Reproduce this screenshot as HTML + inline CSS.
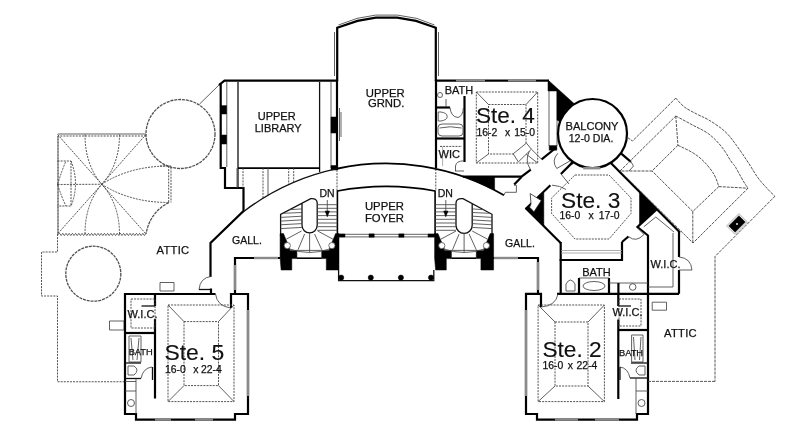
<!DOCTYPE html>
<html><head><meta charset="utf-8"><title>Upper floor plan</title>
<style>
html,body{margin:0;padding:0;background:#fff;}
body{width:800px;height:444px;overflow:hidden;}
svg{display:block;filter:blur(.4px);font-family:"Liberation Sans",sans-serif;}
svg path,svg circle,svg polygon,svg ellipse{fill:none;stroke-linejoin:miter;}
.w{stroke:#000;stroke-width:2.2;}
.m{stroke:#111;stroke-width:1.3;}
.m2{stroke:#000;stroke-width:1.6;}
.a{stroke:#000;stroke-width:1.9;}
.t{stroke:#444;stroke-width:.85;}
.t2{stroke:#999;stroke-width:.8;}
.t0{stroke:#fff;stroke-width:0;}
.d{stroke:#404040;stroke-width:.9;stroke-dasharray:2 1.1;}
.r{stroke:#444;stroke-width:.9;stroke-dasharray:3 1;}
.d2{stroke:#505050;stroke-width:1.3;stroke-dasharray:3 .9;}
.zz{stroke:#444;stroke-width:.8;}
.gw{stroke:#8a8a8a;stroke-width:2.4;}
svg .k{fill:#000;stroke:#000;stroke-width:.5;}
svg .wh{fill:#fff;stroke:none;}
text{fill:#111;stroke:#111;stroke-width:.25;}
text.big{stroke-width:.15;}
</style></head><body>
<svg width="800" height="444" viewBox="0 0 800 444">
<rect x="0" y="0" width="800" height="444" fill="#fff" stroke="none"/>
<path class="d" d="M146,136H58V234"/>
<path class="t" d="M58,134L146,134"/>
<path class="d" d="M58,136L58,234"/>
<path class="d" d="M57.5,134.5L146,234"/>
<path class="d" d="M146,134.5L57.5,234"/>
<path class="zz" d="M58,234.5L59.6,233.3L61.2,235.6L62.8,233.3L64.4,235.6L66.0,233.3L67.6,235.6L69.2,233.3L70.8,235.6L72.4,233.3L74.0,235.6L75.6,233.3L77.2,235.6L78.8,233.3L80.4,235.6L82.0,233.3L83.6,235.6L85.2,233.3L86.8,235.6L88.4,233.3L90.0,235.6L91.6,233.3L93.2,235.6L94.8,233.3L96.4,235.6L98.0,233.3L99.6,235.6L101.2,233.3L102.8,235.6L104.4,233.3L106.0,235.6L107.6,233.3L109.2,235.6L110.8,233.3L112.4,235.6L114.0,233.3L115.6,235.6L117.2,233.3L118.8,235.6L120.4,233.3L122.0,235.6L123.6,233.3L125.2,235.6L126.8,233.3L128.4,235.6L130.0,233.3L131.6,235.6L133.2,233.3L134.8,235.6L136.4,233.3L138.0,235.6L139.6,233.3L141.2,235.6L142.8,233.3L144.4,235.6L146.0,233.3"/>
<path class="d" d="M85,134.5 Q85,165 101.75,184.25"/>
<path class="d" d="M119.5,134.5 Q119.5,165 101.75,184.25"/>
<path class="d" d="M85,234 Q85,204 101.75,184.25"/>
<path class="d" d="M119.5,234 Q119.5,204 101.75,184.25"/>
<path class="d" d="M101.75,184.25 Q130,166 169,166"/>
<path class="d" d="M101.75,184.25 Q130,202.5 169,202.5"/>
<path class="d" d="M160,166H171V202.5 M168.7,166V202.5"/>
<path class="d2" d="M169,202.5 Q150,212 146,234"/>
<path class="d" d="M57.5,184.5L101.75,184.25"/>
<path class="d" d="M57.5,161H71V206H57.5"/>
<path class="d" d="M71,161 Q80,184 71,206"/>
<path class="d" d="M57.5,184.5 Q62,170 66,161"/>
<path class="d" d="M57.5,184.5 Q62,198 66,206"/>
<path class="d" d="M57.5,234V252H41.5V296H57.5V381.75H125"/>
<circle class="d2" cx="93.3" cy="273.7" r="27.5"/>
<circle class="d2" cx="180.5" cy="134" r="34.5"/>
<path class="t" d="M199.6,104L219,85"/>
<path class="t" d="M160,282.5H174V291H160Z"/>
<path class="t" d="M109.5,321H124V330H109.5Z"/>
<path class="w" d="M337.2,81V27.8L357.5,20.9L375.8,17.7H397.2L416,20.9L435.8,27.8V81"/>
<path class="w" d="M337,80L337,170"/>
<path class="w" d="M436,80L436,168"/>
<path class="t" d="M334.5,32V76 M438.5,32V76"/>
<path class="t" d="M338.5,25L357,18.4L375.6,15.1H397.4L416.8,18.4L434.5,25"/>
<path class="w" d="M219,85L224.5,80.6H337"/>
<path class="w" d="M220.7,83V168H225V188H243.5V211L210.5,243V277"/>
<path class="t" d="M226.8,82L226.8,167"/>
<path class="m" d="M238,82L238,188"/>
<path class="m" d="M319.6,82L319.6,172"/>
<path class="t" d="M331,82L331,168"/>
<path class="a" d="M238,168.1L320,168.1"/>
<path class="k" d="M221,105.6H226.5V114H221Z"/>
<path class="k" d="M221,135H226.5V144H221Z"/>
<path class="k" d="M331,117H337V133H331Z"/>
<path class="k" d="M331,165.5H337V170H331Z"/>
<path class="t" d="M339.5,108V141 M341,112V137"/>
<path class="d" d="M243,168L243,188"/>
<path class="d" d="M263,168L263,198.3"/>
<path class="t" d="M268,168L268,195.3"/>
<path class="d" d="M288.7,168L288.7,184.6"/>
<path class="d" d="M293.7,168L293.7,182.4"/>
<path class="t" d="M237,168L237,188"/>
<path class="d" d="M337,170L337,191"/>
<path class="d" d="M435.8,169L435.8,191"/>
<path class="m" d="M243,212 A235,235 0 0 1 337.2,168.6"/>
<path class="a" d="M336.5,168.7 A235,235 0 0 1 504,195.3"/>
<path class="m2" d="M337.4,191 A263,263 0 0 1 435.1,191"/>
<path class="m2" d="M337.4,190.5L337.4,236"/>
<path class="m2" d="M435.1,190.5L435.1,236"/>
<path class="m" d="M280.6,236 V214.3 L310.7,198.6 Q317.2,198.0 317.2,203.1 V225.3 A7.6,7.6 0 0 1 302,225.3 V203.1"/>
<path class="t" d="M317.2,204.7L337.4,204.7"/>
<path class="t" d="M317.2,208.3L337.4,208.3"/>
<path class="t" d="M317.2,211.9L337.4,211.9"/>
<path class="t" d="M317.2,215.6L337.4,215.6"/>
<path class="t" d="M317.2,219.3L337.4,219.3"/>
<path class="t" d="M317.2,223L337.4,223"/>
<path class="t" d="M317.2,226.7L337.4,226.7"/>
<path class="t" d="M317.2,230.3L337.4,230.3"/>
<path class="t" d="M289.4,209.70000000000002L302,208.9"/>
<path class="t" d="M282.5,213.3L302,212.5"/>
<path class="t" d="M280.6,217.4L302,216.2"/>
<path class="t" d="M280.6,221.10000000000002L302,219.9"/>
<path class="t" d="M280.6,224.8L302,223.6"/>
<path class="t" d="M280.6,228.60000000000002L302,227.4"/>
<path class="t" d="M304.6,234.0L298.0,249.8"/>
<path class="t" d="M301.5,231.0L286.3,239.2"/>
<path class="t" d="M309.6,233.0L309.6,252.4"/>
<path class="t" d="M314.6,234.0L321.8,249.8"/>
<path class="t" d="M317.7,231.0L333.0,239.2"/>
<polygon class="k" points="280.1,233.6 283.5,233.6 286.1,240 289.1,246 290.1,250.4 296.90000000000003,250.4 296.90000000000003,258.6 291.8,258.6 291.8,270 281.1,270 280.1,258"/>
<polygon class="k" points="339.0,233.6 335.6,233.6 333.0,240 330.0,246 329.0,250.4 321.7,250.4 321.7,258.6 326.3,258.6 326.3,270 339.0,270"/>
<circle cx="287.3" cy="245.6" r="3.1" style="fill:#fff;stroke:#555;stroke-width:.8"/>
<circle cx="331.9" cy="245.6" r="3.1" style="fill:#fff;stroke:#555;stroke-width:.8"/>
<path class="t" d="M288.1,248.6 Q309.6,256.4 331.1,248.6"/>
<path class="t" d="M296.90000000000003,250.4L321.7,250.4"/>
<path class="m2" d="M296.90000000000003,258.2L321.7,258.2"/>
<text x="327" y="197.2" font-size="10.5" text-anchor="middle" >DN</text>
<path class="t" d="M327.3,200L327.3,212"/>
<polygon class="k" points="325.1,211 329.5,211 327.3,216.8"/>
<path class="m" d="M492,236 V214.3 L463.0,198.6 Q456,198.0 456,203.1 V225.3 A8.1,8.1 0 0 0 472.2,225.3 V203.6"/>
<path class="t" d="M456,204.7L435.1,204.7"/>
<path class="t" d="M456,208.3L435.1,208.3"/>
<path class="t" d="M456,211.9L435.1,211.9"/>
<path class="t" d="M456,215.6L435.1,215.6"/>
<path class="t" d="M456,219.3L435.1,219.3"/>
<path class="t" d="M456,223L435.1,223"/>
<path class="t" d="M456,226.7L435.1,226.7"/>
<path class="t" d="M456,230.3L435.1,230.3"/>
<path class="t" d="M483.5,209.70000000000002L472.2,208.9"/>
<path class="t" d="M490.2,213.3L472.2,212.5"/>
<path class="t" d="M492,217.4L472.2,216.2"/>
<path class="t" d="M492,221.10000000000002L472.2,219.9"/>
<path class="t" d="M492,224.8L472.2,223.6"/>
<path class="t" d="M492,228.60000000000002L472.2,227.4"/>
<path class="t" d="M459.1,234.0L452.5,249.8"/>
<path class="t" d="M456.0,231.0L440.8,239.2"/>
<path class="t" d="M464.1,233.0L464.1,252.4"/>
<path class="t" d="M469.1,234.0L476.3,249.8"/>
<path class="t" d="M472.2,231.0L487.5,239.2"/>
<polygon class="k" points="434.6,233.6 438.0,233.6 440.6,240 443.6,246 444.6,250.4 451.40000000000003,250.4 451.40000000000003,258.6 446.3,258.6 446.3,270 435.6,270 434.6,258"/>
<polygon class="k" points="493.6,233.6 490.20000000000005,233.6 487.6,240 484.6,246 483.6,250.4 476.3,250.4 476.3,258.6 480.90000000000003,258.6 480.90000000000003,270 493.6,270"/>
<circle cx="441.8" cy="245.6" r="3.1" style="fill:#fff;stroke:#555;stroke-width:.8"/>
<circle cx="486.4" cy="245.6" r="3.1" style="fill:#fff;stroke:#555;stroke-width:.8"/>
<path class="t" d="M442.6,248.6 Q464.1,256.4 485.6,248.6"/>
<path class="t" d="M451.40000000000003,250.4L476.3,250.4"/>
<path class="m2" d="M451.40000000000003,258.2L476.3,258.2"/>
<text x="445.3" y="197.2" font-size="10.5" text-anchor="middle" >DN</text>
<path class="t" d="M445.8,200L445.8,212"/>
<polygon class="k" points="443.6,211 448.0,211 445.8,216.8"/>
<path class="t" d="M338,234.3L435,234.3"/>
<path class="t" d="M338,236.9L435,236.9"/>
<path class="k" d="M369.0,233.9H374.20000000000005V237.2H369.0Z"/>
<path class="k" d="M398.79999999999995,233.9H404.0V237.2H398.79999999999995Z"/>
<path class="k" d="M338,234H345V237H338Z"/>
<path class="k" d="M428,234H435V237H428Z"/>
<path class="m" d="M338.6,270V280.7H433.8V270"/>
<circle class="k" cx="341.2" cy="277.6" r="2.6"/>
<circle class="k" cx="370.8" cy="277.6" r="2.6"/>
<circle class="k" cx="400.9" cy="277.6" r="2.6"/>
<circle class="k" cx="431" cy="277.6" r="2.6"/>
<path class="w" d="M280,258H235V294"/>
<path class="w" d="M492.5,258H538V293.8"/>
<path class="gw" d="M254,258H278"/>
<path class="gw" d="M494,258H518"/>
<path class="gw" d="M235,265V290"/>
<path class="gw" d="M538,262V290"/>
<path class="w" d="M215.5,294H125V414H136V419.6H235V414H248V294H231V308"/>
<path class="w" d="M155,294V306 M155,319V398.5"/>
<path class="m" d="M155,306H141.5"/>
<path class="w" d="M125,333L155,333"/>
<path class="gw" d="M155,419.6H171 M195,419.6H213"/>
<path class="gw" d="M248,310V396"/>
<path class="d" d="M168,305H234V401.6H168Z"/>
<path class="d" d="M184,321.6H218.5V385.6H184Z"/>
<path class="t" d="M168,305L184,321.6"/>
<path class="t" d="M234,305L218.5,321.6"/>
<path class="t" d="M234,401.6L218.5,385.6"/>
<path class="t" d="M168,401.6L184,385.6"/>
<path class="t" d="M211,276.4 Q200,278 199,289.5"/>
<path class="m" d="M199,289.5H211"/>
<path class="w" d="M211,288.5L211,294"/>
<path class="t" d="M215.5,294 Q217,306 230.5,308"/>
<path class="d" d="M131,299H155V328H131Z"/>
<path class="t" d="M129,336H141V362H129Z"/>
<path class="t" d="M131,338 L133,360 M139,338 L137,360"/>
<path class="m" d="M125,363L141,363"/>
<path class="m" d="M125,378.5L141,378.5"/>
<path class="t" d="M128,366 H134 Q140,370 134,375 H128 Z"/>
<path class="t" d="M141,378.5 Q143,368 152,367"/>
<path class="m" d="M152.5,367L152.5,380"/>
<path class="t" d="M125,381.5L136,381.5"/>
<path class="t" d="M136,378.5L136,414"/>
<path class="t" d="M125,391L136,391"/>
<circle class="t" cx="131" cy="403" r="3.5"/>
<path class="w" d="M541,307V293.8H526V414H537V419.6H637V414H648V235"/>
<path class="w" d="M618.3,293.8V306 M618.3,319.5V399"/>
<path class="m" d="M618.3,306H631"/>
<path class="w" d="M557,293.8H679"/>
<path class="gw" d="M555,419.6H578 M595,419.6H619"/>
<path class="gw" d="M526,310V396"/>
<path class="d" d="M538.1,305H604.4V401.6H538.1Z"/>
<path class="d" d="M555,322H588V386H555Z"/>
<path class="t" d="M538.1,305L555,322"/>
<path class="t" d="M604.4,305L588,322"/>
<path class="t" d="M604.4,401.6L588,386"/>
<path class="t" d="M538.1,401.6L555,386"/>
<path class="t" d="M541,307 Q556,306 558,293.8"/>
<path class="w" d="M618.3,330L648,330"/>
<path class="d" d="M619,299H641V326H619Z"/>
<path class="t" d="M652.2,302.2H666.5V310.2H652.2Z"/>
<path class="t" d="M631.6,335H643V362H631.6Z"/>
<path class="t" d="M633.5,337 L635,360 M641,337 L639.5,360"/>
<path class="m" d="M631,363L648,363"/>
<path class="m" d="M630,378L648,378"/>
<path class="t" d="M645,366 H639 Q633,370 639,375 H645 Z"/>
<path class="t" d="M630,378 Q628,368 620,367"/>
<path class="m" d="M620,367L620,380"/>
<path class="t" d="M636,378L636,414"/>
<path class="t" d="M636,391L648,391"/>
<circle class="t" cx="641.5" cy="403" r="3.5"/>
<path class="r" d="M648,381.4L715,381.4"/>
<path class="w" d="M560.7,242V260H622V242"/>
<path class="w" d="M560.7,259L560.7,293.8"/>
<path class="t2" d="M561,250.5H622"/>
<path class="t2" d="M561,253H622"/>
<path class="w" d="M579,278L579,293.8"/>
<path class="w" d="M609,278L609,293.8"/>
<path class="t" d="M579,278L609,278"/>
<ellipse class="t" cx="594" cy="286" rx="11" ry="4.5"/>
<path class="t" d="M566,291V284 Q570.5,276 575,284 V291Z"/>
<path class="t" d="M609,283H648"/>
<path class="w" d="M618.4,283L618.4,293.8"/>
<circle class="t" cx="632.7" cy="287" r="3.3"/>
<path class="w" d="M679,232V257 M679,270V293.8"/>
<path class="t" d="M673,233V287H648"/>
<path class="t" d="M679,257 Q691,258 692,270 H679"/>
<path class="w" d="M436,80.6H549"/>
<path class="gw" d="M456,80.2H485 M508,80.2H536"/>
<path class="w" d="M464.5,96L464.5,162"/>
<path class="w" d="M436,107.5L450,107.5"/>
<path class="w" d="M436,138.5L464.5,138.5"/>
<path class="d" d="M476.3,92H537.7V163H476.3Z"/>
<path class="d" d="M488.5,104.5H526V154H488.5Z"/>
<path class="t" d="M476.3,92L488.5,104.5"/>
<path class="t" d="M537.7,92L526,104.5"/>
<path class="t" d="M537.7,163L526,154"/>
<path class="t" d="M476.3,163L488.5,154"/>
<circle class="t" cx="440" cy="95" r="2.5"/>
<path class="t" d="M446,99L446,107"/>
<path class="t" d="M438.2,112 H441 Q447.2,113 447.2,116.5 Q447.2,120 441,121 H438.2 Z"/>
<path class="t" d="M450,107.5 Q451,117 458,117.5 Q463,116 463.3,108"/>
<path class="t" d="M438,127.5 Q438,124 442,124 H459 Q463,124 463,127.5 V132.5 Q463,136 459,136 H442 Q438,136 438,132.5 Z"/>
<path class="t" d="M439.5,128 Q450,125.5 461.5,128"/>
<path class="d" d="M440,146.4H462"/>
<path class="t2" d="M442.6,146.4V166"/>
<path class="w" d="M463,176.6H521.5L530.8,169.6"/>
<polygon class="k" points="463,176.6 494.6,176.6 494.6,190.1 490,187.8 485,185.4 480,183.1 475,181.0 470,179.0 465,177.2"/>
<path class="t" d="M455.5,166 Q456,161 464,160.8"/>
<path class="t" d="M455,171L464,171"/>
<path class="t" d="M455.5,166L455.5,171"/>
<path class="t" d="M549,81V146"/>
<path class="t" d="M557,91V146"/>
<polygon class="k" points="548,80 574,103.5 566,110 560,122 557,120 557,91 548,91"/>
<path class="k" d="M549.2,145.6H556.8V150.2H549.2Z"/>
<path class="w" d="M556.3,147.5L541.6,159.3"/>
<path class="t" d="M541.6,159.3L531.4,149.2"/>
<polygon points="513.2,153.8 526.4,143.1 531.4,149.2 518.3,161.9" style="fill:#fff;stroke:#444;stroke-width:.85"/>
<path class="t" d="M529.4,151.2 Q524.5,160 530.4,169.5"/>
<path class="t" d="M504,195 L505.3,192.3 H516.4 V185.2 H514"/>
<path class="w" d="M514.2,184.4L521.5,177"/>
<path class="t" d="M557.8,153.3 Q551,161 556.8,168.5 L570,160.9"/>
<path class="w" d="M572,162.9L560.9,174"/>
<path class="t" d="M561,174L569,184"/>
<circle class="k" cx="572" cy="163" r="1.2"/>
<path class="t" d="M552,185.2 Q560,185.5 566,189.5"/>
<circle class="w" cx="592.5" cy="133.5" r="34.5"/>
<path class="gw" d="M583.2,168.2 H600.4"/>
<polygon class="d" points="575,175 609,175 631,198 631,213.5 609,239 575,239 551.6,213.5 551.6,198"/>
<path class="w" d="M610.6,162.8L680,232.5"/>
<path class="w" d="M620.7,153.2L630.9,161.8"/>
<path class="t" d="M630.9,161.8L633.5,166L629,171"/>
<path class="w" d="M550.4,185.2L525.6,209"/>
<path class="w" d="M525.6,208L560.7,243"/>
<polygon class="k" points="543.8,192.8 525.8,209 543.8,226.5"/>
<polygon points="530.2,193.6 541.3,200.6 534,211.8 529.6,207.2 531,204" style="fill:#fff;stroke:#222;stroke-width:.8"/>
<polygon class="k" points="639.5,192 656.6,209.4 639.5,224"/>
<path class="w" d="M656.6,209.4L637.5,227L648,235.5"/>
<path class="w" d="M622,242L628.5,236.5"/>
<path class="t" d="M643.8,226.8L655.8,217L674,232"/>
<path class="t" d="M628.5,236.5 Q636,243 644,234.5 L637.5,228"/>
<path class="r" d="M627.5,137.5L632.5,141L675.8,98.1"/>
<path class="r" d="M675.8,98.1C677.2,99.6 680.8,104.3 684.4,107C688.0,109.7 693.3,112.2 697.4,114.4C701.5,116.6 704.2,117.2 708.8,120C713.4,122.8 720.4,127.3 725,131.5C729.6,135.7 732.6,140.2 736.4,145.3C740.2,150.4 744.4,156.8 748,162.2C751.6,167.6 754.5,173.1 757.8,177.6C761.1,182.1 764.8,185.9 767.6,189C770.5,192.1 773.7,195.1 774.9,196.3"/>
<path class="r" d="M774.9,196.3L715,256.5V381.4"/>
<path class="r" d="M620,171L675.8,116"/>
<path class="r" d="M675.8,116C678.6,117.5 687.0,122.0 692.5,125C698.0,128.0 703.9,130.3 708.8,134C713.7,137.7 718.0,142.3 721.8,147C725.6,151.7 729.3,158.8 731.5,162C733.7,165.2 733.0,163.2 735,166.3C737.0,169.5 741.0,177.2 743.2,180.9C745.4,184.6 747.2,187.0 748,188.2"/>
<path class="r" d="M748,188.2L693,243L620,171"/>
<path class="r" d="M677.9,145.3C680.3,146.5 688.2,149.9 692.5,152.6C696.8,155.3 700.3,157.9 703.9,161.5C707.5,165.1 711.5,170.2 714,174.4C716.5,178.6 718.0,184.6 718.8,186.6"/>
<path class="r" d="M675.8,116L677.9,145.3 M718.8,186.6L748,188.2 M718.8,186.6L692.8,211.5 M692.8,211.5V242.5 M692.8,211.5L652,171 M677.9,145.3L652,171H620"/>
<polygon class="k" points="735.1,232.3 728.7,225.9 738.9,215.7 745.3,222.1"/>
<polygon class="t2" points="735.1,234.4 726.6,225.9 738.9,213.6 747.4,222.1"/>
<circle class="wh" cx="737" cy="224" r="0.9"/>
<text x="276.7" y="119.5" font-size="11" text-anchor="middle" >UPPER</text>
<text x="278.2" y="131.5" font-size="11" text-anchor="middle" >LIBRARY</text>
<text x="385.2" y="96.8" font-size="11.3" text-anchor="middle" >UPPER</text>
<text x="386.1" y="107" font-size="11.3" text-anchor="middle" >GRND.</text>
<text x="384.4" y="209.7" font-size="11.3" text-anchor="middle" >UPPER</text>
<text x="384.4" y="222.1" font-size="11.3" text-anchor="middle" >FOYER</text>
<text x="592" y="130.4" font-size="11.1" text-anchor="middle" >BALCONY</text>
<text x="591" y="142.1" font-size="10.6" text-anchor="middle" >12-0 DIA.</text>
<text x="459" y="94" font-size="11" text-anchor="middle" >BATH</text>
<text x="449.3" y="157.6" font-size="11" text-anchor="middle" >WIC</text>
<text x="247" y="243.5" font-size="10.5" text-anchor="middle" >GALL.</text>
<text x="520" y="246.5" font-size="10.5" text-anchor="middle" >GALL.</text>
<text x="173" y="254" font-size="11.2" text-anchor="middle" letter-spacing=".3">ATTIC</text>
<text x="680.5" y="337.3" font-size="11.2" text-anchor="middle" letter-spacing=".3">ATTIC</text>
<text x="596.5" y="275.5" font-size="11" text-anchor="middle" >BATH</text>
<text x="665.5" y="268.3" font-size="11" text-anchor="middle" >W.I.C.</text>
<text x="142.5" y="317.5" font-size="11" text-anchor="middle" >W.I.C.</text>
<text x="627.5" y="316.3" font-size="11" text-anchor="middle" >W.I.C.</text>
<text x="140.7" y="354.6" font-size="9.3" text-anchor="middle" >BATH</text>
<text x="631" y="356.3" font-size="9.3" text-anchor="middle" >BATH</text>
<text x="164.4" y="359.8" font-size="22.3" textLength="59.9" lengthAdjust="spacingAndGlyphs" class="big">Ste. 5</text>
<text y="373" font-size="10.4"><tspan x="164.9">16-0</tspan> <tspan x="193.3">x</tspan> <tspan x="201.0">22-4</tspan></text>
<text x="542.4" y="356.8" font-size="22.3" textLength="59.3" lengthAdjust="spacingAndGlyphs" class="big">Ste. 2</text>
<text y="368.5" font-size="10.4"><tspan x="542.4">16-0</tspan> <tspan x="567.8">x</tspan> <tspan x="576.6">22-4</tspan></text>
<text x="475.9" y="123.3" font-size="22.3" textLength="59.0" lengthAdjust="spacingAndGlyphs" class="big">Ste. 4</text>
<text y="135.5" font-size="10.4"><tspan x="476.4">16-2</tspan> <tspan x="505">x</tspan> <tspan x="514.2">15-0</tspan></text>
<text x="561" y="207.8" font-size="22.3" textLength="59.3" lengthAdjust="spacingAndGlyphs" class="big">Ste. 3</text>
<text y="219" font-size="10.4"><tspan x="559.4">16-0</tspan> <tspan x="588.4">x</tspan> <tspan x="598.8">17-0</tspan></text>
</svg>
</body></html>
